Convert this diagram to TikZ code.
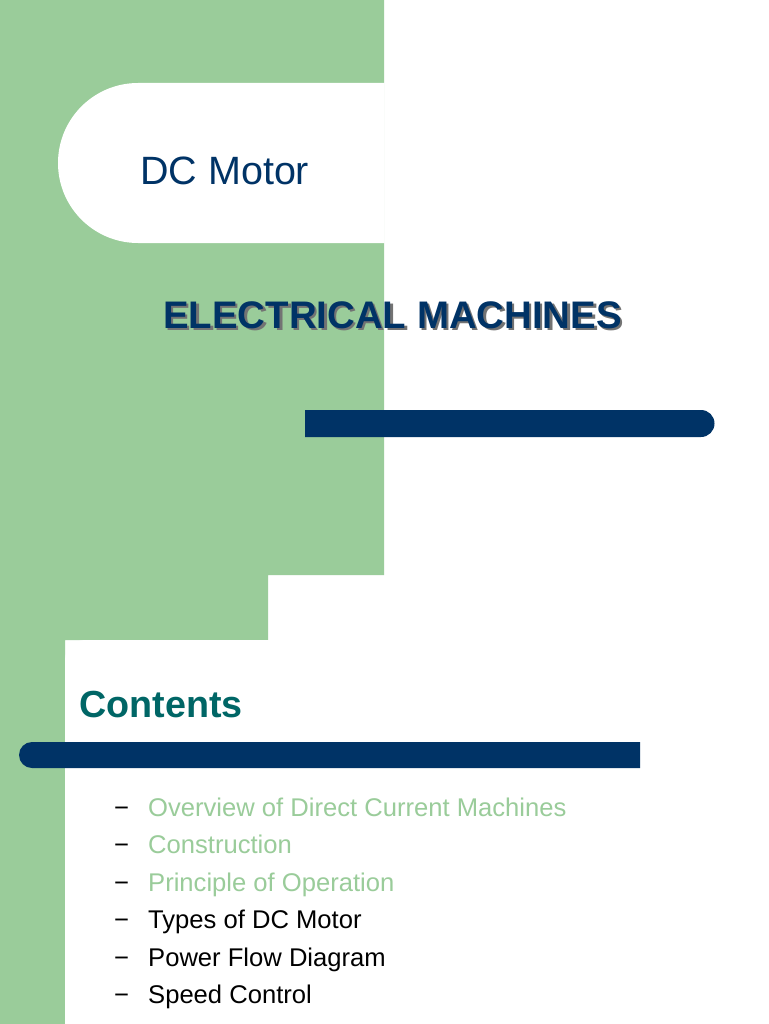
\documentclass[tikz,border=0pt]{standalone}
\usepackage{fontspec}
\setmainfont{Liberation Sans}
\definecolor{lgreen}{HTML}{9ACC9A}
\definecolor{navy}{HTML}{003366}
\definecolor{teal2}{HTML}{006666}
\begin{document}
\begin{tikzpicture}[x=1pt,y=-1pt,
  txt/.style={anchor=base west,inner sep=0pt},
  item/.style={txt,font=\fontsize{25.6}{30}\selectfont},
  dsh/.style={txt,font=\fontsize{25.6}{30}\selectfont}]
\useasboundingbox (0,0) rectangle (768,1024);
\fill[white] (0,0) rectangle (768,1024);
\fill[lgreen] (0,0) -- (384,0) -- (384,575) -- (268,575) -- (268,640) -- (65,640) -- (65,1024) -- (0,1024) -- cycle;
% top white rounded tab
\fill[white] (384.5,83) -- (138,83) arc[start angle=270,end angle=90,radius=80] -- (384.5,243) -- cycle;
% lower white panel
\fill[white] (85,640) -- (768,640) -- (768,1024) -- (65,1024) -- (65,660) arc[start angle=180,end angle=270,radius=20] -- cycle;
% bars
\fill[navy] (305,410) -- (701,410) arc[start angle=270,end angle=450,radius=13.5] -- (305,437) -- cycle;
\fill[navy] (640,742) -- (32,742) arc[start angle=270,end angle=90,radius=13] -- (640,768) -- cycle;
\node[txt,text=navy,font=\fontsize{39.5}{46}\selectfont] (t1) at (140,185) {DC Motor};
\node[txt,text=black!55,font=\bfseries\fontsize{38.4}{44}\selectfont] (t2s) at (165.5,330.5) {ELECTRICAL MACHINES};
\node[txt,text=navy,font=\bfseries\fontsize{38.4}{44}\selectfont] (t2) at (163,328) {ELECTRICAL MACHINES};
\node[txt,text=teal2,font=\bfseries\fontsize{37.7}{44}\selectfont] (t3) at (79,717) {Contents};
\foreach \i/\t/\c in {0/Overview of Direct Current Machines/lgreen,1/Construction/lgreen,2/Principle of Operation/lgreen,3/Types of DC Motor/black,4/Power Flow Diagram/black,5/Speed Control/black}{
  \node[dsh] (d\i) at (114,816+37.5*\i) {−};
  \node[item,text=\c] (i\i) at (148,816+37.5*\i) {\t};
}
\end{tikzpicture}
\end{document}
